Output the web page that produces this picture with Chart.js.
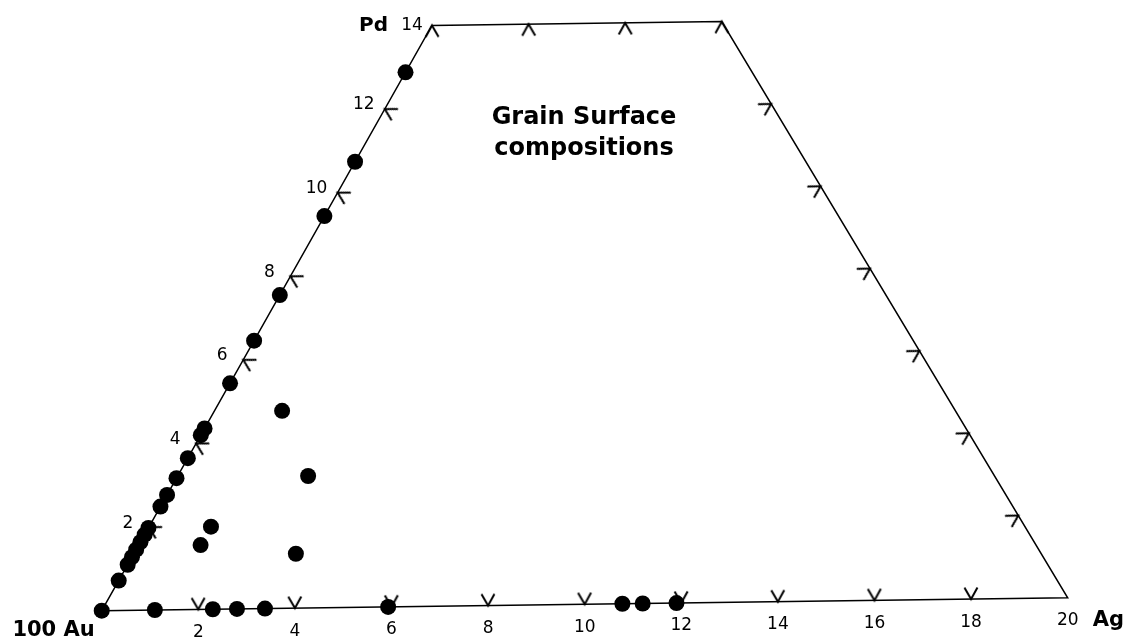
<!DOCTYPE html>
<html>
<head>
<meta charset="utf-8">
<title>Grain Surface compositions</title>
<script src="https://cdn.jsdelivr.net/npm/chart.js@4/dist/chart.umd.min.js"></script>
<style>
  body { margin: 0; background: #fff; }
  #wrap { width: 1133px; height: 643px; }
</style>
</head>
<body>
<div id="wrap"><canvas id="grafico" width="1133" height="643"></canvas></div>
<script>
// grain surface compositions, wt% Ag and Pd (Au is the rest)
const grainAg = [0, 0, 0, 0, 0, 0, 0, 0, 0, 0, 0, 0, 0, 0, 0, 0, 0, 0, 0, 0,
  1.41, 2.72, 1.29, 1.29, 3.38,
  1.10, 2.30, 2.80, 3.38, 5.93, 10.78, 11.20, 11.90];
const grainPd = [0, 0.72, 1.10, 1.28, 1.46, 1.64, 1.82, 1.98, 2.49, 2.77, 3.17, 3.65, 4.20, 4.36, 5.44, 6.46, 7.55, 9.44, 10.74, 12.88,
  4.76, 3.18, 1.99, 1.55, 1.31,
  0, 0, 0, 0, 0, 0, 0, 0];

// scale of the diagram
const agEnd = 20;
const pdTop = 14;
const agTicks = [2, 4, 6, 8, 10, 12, 14, 16, 18, 20];
const agLabels = ["2", "4", "6", "8", "10", "12", "14", "16", "18", "20"];
const pdTicks = [2, 4, 6, 8, 10, 12];
const pdLabels = ["2", "4", "6", "8", "10", "12"];
const topTicks = [0, 2, 4, 6];
const titolo = ["Grain Surface", "compositions"];

const tilt = 0.77; // degrees, the original page is scanned a bit crooked
const font = '"DejaVu Sans", sans-serif';

// ternary (Ag, Pd) -> plane
const tern = function (ag, pd) {
  const r = tilt * Math.PI / 180;
  const x = ag + pd / 2;
  const y = pd * Math.sqrt(3) / 2;
  return { x: x * Math.cos(r) - y * Math.sin(r), y: x * Math.sin(r) + y * Math.cos(r) };
};

// little chevron used as tick, opening upwards
const chevron = document.createElement("canvas");
chevron.width = 30;
chevron.height = 30;
const cc = chevron.getContext("2d");
cc.strokeStyle = "#000";
cc.lineWidth = 2;
cc.beginPath();
cc.moveTo(15 - 6.5, 15 - 11.5);
cc.lineTo(15, 15);
cc.lineTo(15 + 6.5, 15 - 11.5);
cc.stroke();

const punti = grainAg.map((a, i) => tern(a, grainPd[i]));
const bordo = [tern(0, 0), tern(agEnd, 0), tern(agEnd - pdTop, pdTop), tern(0, pdTop), tern(0, 0)];
const tickBasso = agTicks.filter(a => a < agEnd).map(a => tern(a, 0));
const tickSinistra = pdTicks.map(p => tern(0, p));
const tickAlto = topTicks.map(a => tern(a, pdTop));
const tickDestra = pdTicks.map(p => tern(agEnd - p, p));

const tickSet = function (data, rot) {
  return {
    data: data,
    showLine: false,
    pointStyle: chevron,
    pointRadius: 5,
    pointRotation: rot - tilt,
  };
};

const etichette = {
  id: "etichette",
  afterDatasetsDraw(chart) {
    const ctx = chart.ctx;
    const sx = chart.scales.x;
    const sy = chart.scales.y;
    const scrivi = function (ag, pd, text, dx, dy, f, align) {
      const p = tern(ag, pd);
      ctx.font = f;
      ctx.textAlign = align || "center";
      ctx.textBaseline = "middle";
      ctx.fillText(text, sx.getPixelForValue(p.x) + dx, sy.getPixelForValue(p.y) + dy);
    };
    ctx.save();
    ctx.fillStyle = "#000";
    agTicks.forEach((a, i) => scrivi(a, 0, agLabels[i], 0, 23, "17px " + font));
    pdTicks.forEach((p, i) => scrivi(0, p, pdLabels[i], -21, -4, "17px " + font));
    scrivi(0, 0, "100 Au", -7, 20, "bold 21px " + font, "right");
    scrivi(agEnd, 0, "Ag", 25, 23, "bold 21px " + font, "left");
    scrivi(0, pdTop, "14", -20, 0, "17px " + font);
    scrivi(0, pdTop, "Pd", -44, 0, "bold 20px " + font, "right");
    ctx.font = "bold 24px " + font;
    ctx.textAlign = "center";
    ctx.textBaseline = "alphabetic";
    ctx.fillText(titolo[0], 584, 124);
    ctx.fillText(titolo[1], 584, 155);
    ctx.restore();
  },
};

const config = {
  type: "scatter",
  data: {
    datasets: [
      {
        data: punti,
        pointRadius: 8,
        pointBorderWidth: 0,
        backgroundColor: "#000",
      },
      {
        data: bordo,
        showLine: true,
        borderColor: "#000",
        borderWidth: 1.5,
        pointRadius: 0,
      },
      tickSet(tickBasso, 0),
      tickSet(tickSinistra, 120),
      tickSet(tickAlto, 180),
      tickSet(tickDestra, 240),
    ],
  },
  options: {
    responsive: false,
    animation: false,
    events: [],
    layout: { padding: 0, autoPadding: false },
    scales: {
      x: { type: "linear", min: -2.106, max: 21.35, display: false },
      y: { type: "linear", min: -0.674, max: 12.749, display: false },
    },
    plugins: {
      legend: { display: false },
      tooltip: { enabled: false },
    },
  },
  plugins: [etichette],
};

const grafico = new Chart(document.getElementById("grafico"), config);
</script>
</body>
</html>
